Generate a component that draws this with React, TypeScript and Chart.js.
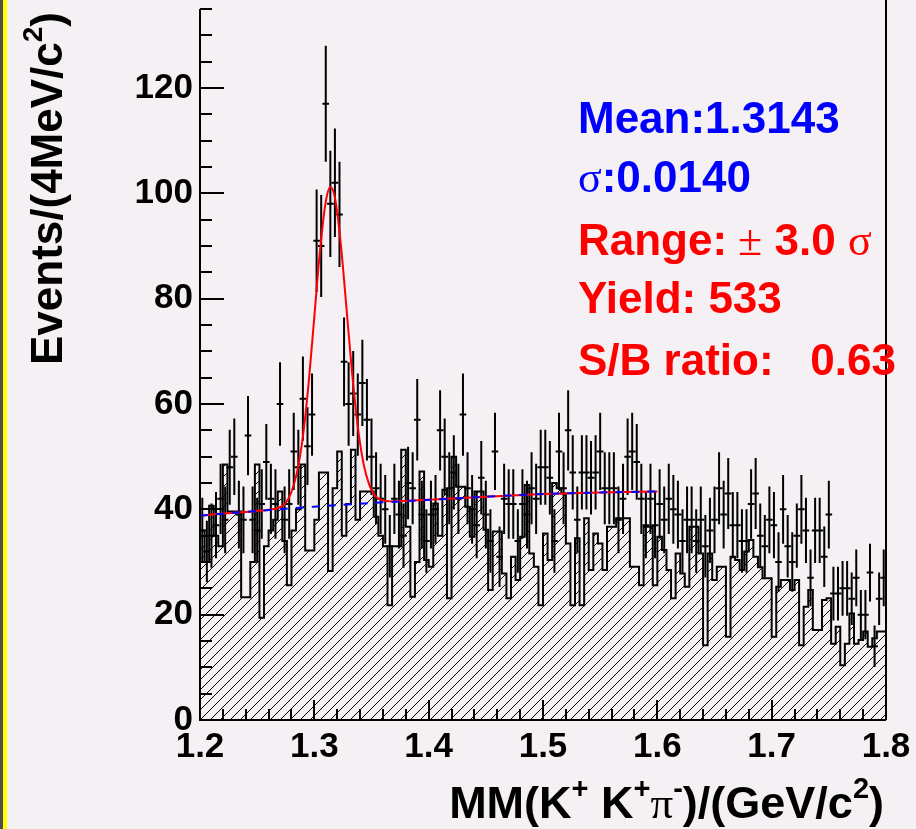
import React, { useEffect, useRef } from "react";
import { Chart, registerables } from "chart.js";

Chart.register(...registerables);

// ---------------- data ----------------
const X_MIN = 1.2;
const X_MAX = 1.8;
const BIN_WIDTH = 0.004;
const Y_MIN = 0;
const Y_MAX = 135;

const X_TICKS = [1.2, 1.3, 1.4, 1.5, 1.6, 1.7, 1.8];
const X_TICK_LABELS = ["1.2", "1.3", "1.4", "1.5", "1.6", "1.7", "1.8"];
const Y_TICKS = [0, 20, 40, 60, 80, 100, 120];
const Y_TICK_LABELS = ["0", "20", "40", "60", "80", "100", "120"];
const X_MINOR_STEP = 0.02;
const Y_MINOR_STEP = 5;

// events per 4 MeV bin (150 bins from 1.2 to 1.8)
const DATA_COUNTS = [
  36, 32, 35, 37, 42, 38, 48, 50, 39, 38,
  54, 38, 36, 41, 49, 42, 41, 60, 38, 41,
  51, 48, 61, 52, 58, 91, 90, 117, 98, 102,
  96, 68, 60, 62, 58, 64, 57, 50, 44, 42,
  40, 33, 42, 39, 35, 45, 44, 57, 39, 34,
  39, 40, 55, 50, 44, 47, 42, 58, 44, 40,
  37, 46, 39, 34, 51, 31, 42, 41, 41, 34,
  41, 39, 44, 42, 48, 48, 46, 34, 51, 44,
  55, 47, 38, 47, 47, 46, 47, 51, 44, 44,
  44, 38, 42, 50, 51, 49, 42, 37, 42, 37,
  41, 38, 42, 40, 39, 34, 38, 38, 34, 38,
  33, 36, 38, 44, 39, 43, 37, 37, 34, 34,
  41, 43, 35, 33, 38, 37, 30, 40, 33, 30,
  35, 40, 36, 27, 36, 36, 31, 39, 24, 24,
  25, 25, 23, 27, 20, 20, 28, 14, 23, 27,
];

// hatched (sideband) histogram, same binning
const SIDEBAND = [
  36, 30, 40.7, 35, 33, 48.5, 39.6, 39.6, 39.6, 23.3,
  23.3, 30, 48.5, 19.4, 33, 36, 38, 43.4, 34, 25.6,
  36, 40, 48.5, 32.2, 32.2, 38, 47, 47, 28.3, 44,
  51, 35, 41, 51.3, 38, 43.4, 43.4, 43.4, 38.6, 35,
  33, 21.8, 33, 33, 51.3, 36.7, 23.4, 30, 47.2, 30.4,
  29.1, 41.1, 35, 43.7, 23.1, 50, 44.3, 44.3, 40.5, 34.8,
  43.4, 43.4, 36.1, 24.7, 35.8, 35.8, 27.8, 23.1, 31, 26.6,
  34.8, 44.6, 31.6, 29.1, 21.8, 35.4, 30.4, 45, 44, 43,
  33.5, 21.8, 34.5, 21.8, 38.3, 28.5, 35.4, 33.5, 28.5, 36.7,
  36.7, 38.3, 38.3, 38.3, 29.1, 29.1, 25.6, 36.7, 36.7, 25.6,
  34.8, 32.3, 28.5, 23.1, 31.6, 27.8, 25.3, 36.7, 36.7, 31.6,
  14.2, 31.6, 26.6, 29.1, 29.1, 15.8, 31, 30.4, 28.5, 32,
  34.2, 31, 29, 26.9, 26.9, 15.8, 25.3, 26.6, 26.6, 24.7,
  26.6, 14.2, 21.5, 24.7, 17.1, 17.1, 22.8, 23.1, 14.5, 17.7,
  10.4, 14.5, 20.2, 14.5, 15.2, 16.8, 13.9, 15.5, 16.8, 16.8,
];

// red fit curve (signal + background)
const FIT_X = [
  1.2, 1.22, 1.24, 1.26, 1.27, 1.275, 1.28, 1.285, 1.29, 1.295,
  1.3, 1.305, 1.31, 1.314, 1.318, 1.323, 1.328, 1.333, 1.338, 1.343,
  1.348, 1.353, 1.36, 1.37, 1.38, 1.4, 1.45, 1.5, 1.55, 1.6,
];
const FIT_Y = [
  38.8, 39.2, 39.5, 39.9, 40.4, 41.2, 43.3, 47.2, 53.8, 63.9,
  76.6, 89.2, 98.4, 101.2, 99.2, 90.7, 78.5, 65.9, 55.7, 48.7,
  44.7, 42.6, 41.7, 41.5, 41.6, 41.8, 42.4, 42.9, 43.2, 43.4,
];

// blue dashed background
const BKG_X = [1.2, 1.25, 1.3, 1.35, 1.4, 1.45, 1.5, 1.55, 1.6];
const BKG_Y = [38.8, 39.7, 40.5, 41.2, 41.8, 42.4, 42.9, 43.2, 43.4];

// ---------------- style ----------------
const W = 916;
const H = 829;
const BG = "#f4f0f4";
const SANS = '"Liberation Sans", Arial, Helvetica, sans-serif';
const SERIF = '"Liberation Serif", "DejaVu Serif", "Times New Roman", serif';

type Seg = { t: string; font: string; dy?: number };

function drawSegs(
  ctx: CanvasRenderingContext2D,
  segs: Seg[],
  x: number,
  y: number,
  align: "left" | "right",
  color: string
) {
  ctx.fillStyle = color;
  ctx.textAlign = "left";
  ctx.textBaseline = "alphabetic";
  let total = 0;
  for (const s of segs) {
    ctx.font = s.font;
    total += ctx.measureText(s.t).width;
  }
  let cx = align === "right" ? x - total : x;
  for (const s of segs) {
    ctx.font = s.font;
    ctx.fillText(s.t, cx, y + (s.dy || 0));
    cx += ctx.measureText(s.t).width;
  }
}

function makeHatch(): CanvasPattern | string {
  const s = 10;
  const c = document.createElement("canvas");
  c.width = s;
  c.height = s;
  const g = c.getContext("2d");
  if (!g) return "rgba(0,0,0,0.2)";
  g.strokeStyle = "#000";
  g.lineWidth = 1;
  g.beginPath();
  g.moveTo(-1, s + 1);
  g.lineTo(s + 1, -1);
  g.moveTo(-1, 1);
  g.lineTo(1, -1);
  g.moveTo(s - 1, s + 1);
  g.lineTo(s + 1, s - 1);
  g.stroke();
  const p = g.createPattern(c, "repeat");
  return p || "rgba(0,0,0,0.2)";
}

const rootPlugin = {
  id: "rootStyle",
  beforeDraw(chart: any) {
    const ctx: CanvasRenderingContext2D = chart.ctx;
    ctx.save();
    ctx.fillStyle = BG;
    ctx.fillRect(0, 0, chart.width, chart.height);
    ctx.fillStyle = "#4d4d4d";
    ctx.fillRect(0, 0, 3, chart.height);
    ctx.fillStyle = "#ffff00";
    ctx.fillRect(3, 0, 4, chart.height);
    ctx.restore();
  },
  afterDatasetsDraw(chart: any) {
    const ctx: CanvasRenderingContext2D = chart.ctx;
    const a = chart.chartArea;
    const xs = chart.scales.x;
    const ys = chart.scales.y;
    ctx.save();
    ctx.strokeStyle = "#000";
    ctx.lineWidth = 2;
    ctx.beginPath();
    // y ticks (inside)
    const ny = Math.round((Y_MAX - Y_MIN) / Y_MINOR_STEP);
    for (let k = 0; k <= ny; k++) {
      const v = Y_MIN + k * Y_MINOR_STEP;
      const py = Math.round(ys.getPixelForValue(v));
      const major = Y_TICKS.indexOf(v) >= 0;
      ctx.moveTo(a.left, py);
      ctx.lineTo(a.left + (major ? 24 : 12), py);
    }
    // x ticks (inside)
    const nx = Math.round((X_MAX - X_MIN) / X_MINOR_STEP);
    for (let k = 0; k <= nx; k++) {
      const v = X_MIN + k * X_MINOR_STEP;
      const px = Math.round(xs.getPixelForValue(v));
      const major = k % 5 === 0;
      ctx.moveTo(px, a.bottom);
      ctx.lineTo(px, a.bottom - (major ? 20 : 11));
    }
    ctx.stroke();
    // frame
    ctx.beginPath();
    ctx.moveTo(a.left, a.top);
    ctx.lineTo(a.left, a.bottom);
    ctx.lineTo(a.right, a.bottom);
    ctx.moveTo(a.right, 0);
    ctx.lineTo(a.right, a.bottom);
    ctx.stroke();
    ctx.restore();
  },
  afterDraw(chart: any) {
    const ctx: CanvasRenderingContext2D = chart.ctx;
    ctx.save();
    const B43 = `bold 44px ${SANS}`;
    const S43 = `44px ${SERIF}`;
    drawSegs(ctx, [{ t: "Mean:1.3143", font: B43 }], 578, 133, "left", "#0000ff");
    drawSegs(ctx, [{ t: "\u03c3", font: S43 }, { t: ":0.0140", font: B43 }], 578, 192, "left", "#0000ff");
    drawSegs(
      ctx,
      [
        { t: "Range:", font: B43 },
        { t: " \u00b1", font: S43 },
        { t: " 3.0 ", font: B43 },
        { t: "\u03c3", font: S43 },
      ],
      578,
      255,
      "left",
      "#ff0000"
    );
    drawSegs(ctx, [{ t: "Yield: 533", font: B43 }], 578, 313, "left", "#ff0000");
    drawSegs(ctx, [{ t: "S/B ratio:   0.63", font: B43 }], 578, 375, "left", "#ff0000");

    // x title
    const BX = `bold 45px ${SANS}`;
    const SUPX = `bold 29px ${SANS}`;
    drawSegs(
      ctx,
      [
        { t: "MM(K", font: BX },
        { t: "+", font: SUPX, dy: -20 },
        { t: " K", font: BX },
        { t: "+", font: SUPX, dy: -20 },
        { t: "\u03c0", font: `45px ${SERIF}` },
        { t: "-", font: SUPX, dy: -20 },
        { t: ")/(GeV/c", font: BX },
        { t: "2", font: SUPX, dy: -20 },
        { t: ")", font: BX },
      ],
      884,
      818,
      "right",
      "#000"
    );

    // y title (rotated)
    ctx.translate(62, 12);
    ctx.rotate(-Math.PI / 2);
    const BY = `bold 44px ${SANS}`;
    const SUPY = `bold 28px ${SANS}`;
    drawSegs(
      ctx,
      [
        { t: "Events/(4MeV/c", font: BY },
        { t: "2", font: SUPY, dy: -20 },
        { t: ")", font: BY },
      ],
      0,
      0,
      "right",
      "#000"
    );
    ctx.restore();
  },
};

export default function App() {
  const ref = useRef<HTMLCanvasElement | null>(null);

  useEffect(() => {
    const canvas = ref.current;
    if (!canvas) return;

    const stepPts: { x: number; y: number }[] = [];
    SIDEBAND.forEach((v, i) => {
      const lo = X_MIN + i * BIN_WIDTH;
      stepPts.push({ x: lo, y: v }, { x: lo + BIN_WIDTH, y: v });
    });

    const errPts: { x: number; y: number | null }[] = [];
    DATA_COUNTS.forEach((n, i) => {
      const c = X_MIN + (i + 0.5) * BIN_WIDTH;
      const e = Math.sqrt(n);
      errPts.push({ x: c, y: n - e }, { x: c, y: n + e }, { x: c, y: null });
      errPts.push({ x: c - BIN_WIDTH / 2, y: n }, { x: c + BIN_WIDTH / 2, y: n }, { x: c, y: null });
    });

    const fitPts = FIT_X.map((x, i) => ({ x, y: FIT_Y[i] }));
    const bkgPts = BKG_X.map((x, i) => ({ x, y: BKG_Y[i] }));

    const tickFont = { family: SANS, size: 35, weight: "bold" as const };

    const chart = new Chart(canvas, {
      type: "line",
      data: {
        datasets: [
          {
            label: "sideband",
            data: stepPts,
            borderColor: "#000",
            borderWidth: 2,
            backgroundColor: makeHatch() as any,
            fill: "origin",
            pointRadius: 0,
            tension: 0,
            order: 4,
          },
          {
            label: "data",
            data: errPts as any,
            borderColor: "#000",
            borderWidth: 2,
            borderCapStyle: "square",
            pointRadius: 0,
            spanGaps: false,
            fill: false,
            tension: 0,
            order: 3,
          },
          {
            label: "fit",
            data: fitPts,
            borderColor: "#ff0000",
            borderWidth: 2,
            pointRadius: 0,
            fill: false,
            cubicInterpolationMode: "monotone",
            order: 2,
          },
          {
            label: "background",
            data: bkgPts,
            borderColor: "#0000ff",
            borderWidth: 2,
            borderDash: [8, 8],
            pointRadius: 0,
            fill: false,
            tension: 0.3,
            order: 1,
          },
        ],
      },
      options: {
        responsive: false,
        animation: false,
        devicePixelRatio: 1,
        layout: { padding: { left: 0, right: 30, top: 9, bottom: 0 } },
        plugins: {
          legend: { display: false },
          tooltip: { enabled: false },
        },
        events: [],
        scales: {
          x: {
            type: "linear",
            min: X_MIN,
            max: X_MAX,
            grid: { display: false, drawTicks: false },
            border: { display: false },
            ticks: {
              autoSkip: false,
              maxRotation: 0,
              minRotation: 0,
              padding: 6,
              color: "#000",
              font: tickFont,
              callback: (_v: any, i: number) => X_TICK_LABELS[i],
            },
            afterBuildTicks: (s: any) => {
              s.ticks = X_TICKS.map((v) => ({ value: v }));
            },
            afterFit: (s: any) => {
              s.height = H - 720;
              s.paddingLeft = 0;
              s.paddingRight = 0;
            },
          },
          y: {
            type: "linear",
            min: Y_MIN,
            max: Y_MAX,
            grid: { display: false, drawTicks: false },
            border: { display: false },
            ticks: {
              padding: 7,
              color: "#000",
              font: tickFont,
              callback: (_v: any, i: number) => Y_TICK_LABELS[i],
            },
            afterBuildTicks: (s: any) => {
              s.ticks = Y_TICKS.map((v) => ({ value: v }));
            },
            afterFit: (s: any) => {
              s.width = 200;
              s.paddingTop = 0;
              s.paddingBottom = 0;
            },
          },
        },
      } as any,
      plugins: [rootPlugin as any],
    });

    return () => chart.destroy();
  }, []);

  return (
    <div style={{ position: "fixed", left: 0, top: 0, width: W, height: H, background: BG }}>
      <canvas ref={ref} width={W} height={H} style={{ display: "block", width: W, height: H }} />
    </div>
  );
}
